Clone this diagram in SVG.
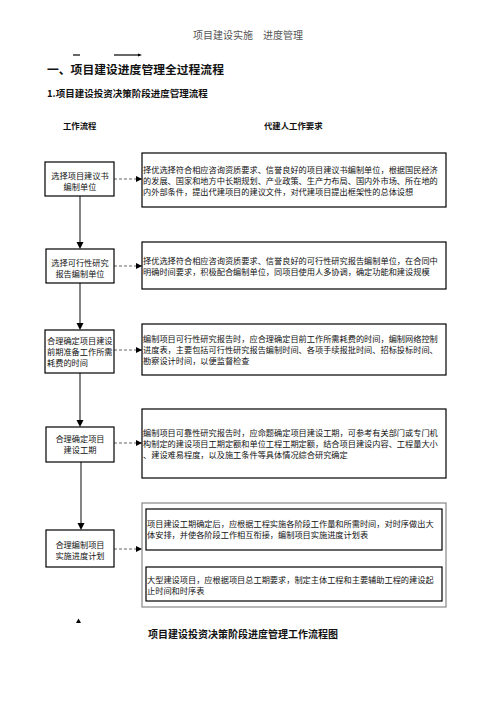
<svg xmlns="http://www.w3.org/2000/svg" width="496" height="702" viewBox="0 0 496 702">
<defs>
<style>
text{font-family:"Noto Sans CJK SC","Noto Sans",sans-serif;fill:#111}
.hd{font-size:10px;fill:#555;text-anchor:middle}
.t1{font-size:11.8px;font-weight:bold}
.t2{font-size:9.5px;font-weight:bold}
.t3{font-size:8.4px;font-weight:bold}
.cap{font-size:10px;font-weight:bold}
.bx{fill:#fff;stroke:#000;stroke-width:1.2}
.gb{fill:#fff;stroke:#888;stroke-width:1.2}
.lt{font-size:8.2px;text-anchor:middle}
.ll{font-size:8.2px}
.rt{font-size:8.2px}
.dash{stroke:#666;stroke-width:1;stroke-dasharray:3,2;fill:none}
.vl{stroke:#666;stroke-width:1.6;fill:none}
</style>
<marker id="ah" viewBox="0 0 10 10" refX="10" refY="5" markerWidth="6" markerHeight="6" orient="auto" markerUnits="userSpaceOnUse">
<path d="M0,0L10,5L0,10z" fill="#000"/>
</marker>
</defs>
<text class="hd" x="248" y="39">项目建设实施　进度管理</text>
<g id="top-marks">
<line x1="73" y1="55" x2="80" y2="55" stroke="#000" stroke-width="1.2"/>
<line x1="114" y1="55" x2="140" y2="55" stroke="#000" stroke-width="1.2"/>
<path d="M138,53.5L142,55L138,56.5z" fill="#000"/>
</g>
<text class="t1" x="47" y="74">一、项目建设进度管理全过程流程</text>
<text class="t2" x="47" y="97">1.项目建设投资决策阶段进度管理流程</text>
<text class="t3" x="63" y="129">工作流程</text>
<text class="t3" x="264" y="129">代建人工作要求</text>

<g id="connectors">
<line class="vl" x1="80" y1="196" x2="80" y2="243"/>
<path d="M76.5,242L80,249L83.5,242z" fill="#000"/>
<line class="vl" x1="80" y1="283" x2="80" y2="324"/>
<path d="M76.5,323L80,330L83.5,323z" fill="#000"/>
<line class="vl" x1="80" y1="373" x2="80" y2="421"/>
<path d="M76.5,420L80,427L83.5,420z" fill="#000"/>
<line class="vl" x1="81" y1="462" x2="81" y2="524"/>
<path d="M77.5,523L81,530L84.5,523z" fill="#000"/>
<line class="dash" x1="114" y1="179" x2="142" y2="179" marker-end="url(#ah)"/>
<line class="dash" x1="114" y1="266" x2="142" y2="266" marker-end="url(#ah)"/>
<line class="dash" x1="114" y1="350" x2="142" y2="350" marker-end="url(#ah)"/>
<line class="dash" x1="114" y1="443" x2="142" y2="443" marker-end="url(#ah)"/>
<line class="dash" x1="114" y1="549" x2="142" y2="549" marker-end="url(#ah)"/>
</g>

<g id="n1">
<rect class="bx" x="45" y="162" width="69" height="34"/>
<text class="lt" x="80" y="179">选择项目建议书</text>
<text class="lt" x="80" y="190">编制单位</text>
</g>
<g id="r1">
<rect class="bx" x="142" y="153" width="304" height="54"/>
<text class="rt" x="143" y="173">择优选择符合相应咨询资质要求、信誉良好的项目建议书编制单位，根据国民经济</text>
<text class="rt" x="143" y="184">的发展、国家和地方中长期规划、产业政策、生产力布局、国内外市场、所在地的</text>
<text class="rt" x="143" y="195">内外部条件，提出代建项目的建议文件，对代建项目提出框架性的总体设想</text>
</g>

<g id="n2">
<rect class="bx" x="46" y="249" width="68" height="34"/>
<text class="lt" x="80" y="266">选择可行性研究</text>
<text class="lt" x="80" y="277">报告编制单位</text>
</g>
<g id="r2">
<rect class="bx" x="142" y="242" width="304" height="47"/>
<text class="rt" x="143" y="264">择优选择符合相应咨询资质要求、信誉良好的可行性研究报告编制单位，在合同中</text>
<text class="rt" x="143" y="275">明确时间要求，积极配合编制单位，同项目使用人多协调，确定功能和建设规模</text>
</g>

<g id="n3">
<rect class="bx" x="45" y="330" width="69" height="43"/>
<text class="ll" x="47" y="344">合理确定项目建设</text>
<text class="ll" x="47" y="355">前期准备工作所需</text>
<text class="ll" x="47" y="366">耗费的时间</text>
</g>
<g id="r3">
<rect class="bx" x="142" y="324" width="304" height="51"/>
<text class="rt" x="143" y="342">编制项目可行性研究报告时，应合理确定目前工作所需耗费的时间，编制网络控制</text>
<text class="rt" x="143" y="353">进度表，主要包括可行性研究报告编制时间、各项手续报批时间、招标投标时间、</text>
<text class="rt" x="143" y="364">勘察设计时间，以便监督检查</text>
</g>

<g id="n4">
<rect class="bx" x="46" y="427" width="68" height="35"/>
<text class="lt" x="80" y="442">合理确定项目</text>
<text class="lt" x="80" y="453">建设工期</text>
</g>
<g id="r4">
<rect class="bx" x="142" y="409" width="304" height="69"/>
<text class="rt" x="143" y="436">编制项目可靠性研究报告时，应命题确定项目建设工期，可参考有关部门或专门机</text>
<text class="rt" x="143" y="447">构制定的建设项目工期定额和单位工程工期定额，结合项目建设内容、工程量大小</text>
<text class="rt" x="143" y="458">、建设难易程度，以及施工条件等具体情况综合研究确定</text>
</g>

<g id="n5">
<rect class="bx" x="46" y="530" width="68" height="37"/>
<text class="lt" x="80" y="548">合理编制项目</text>
<text class="lt" x="80" y="559">实施进度计划</text>
</g>
<g id="r5">
<rect class="gb" x="142" y="503" width="304" height="104"/>
<rect class="bx" x="146" y="509" width="296" height="41"/>
<text class="rt" x="147" y="527">项目建设工期确定后，应根据工程实施各阶段工作量和所需时间，对时序做出大</text>
<text class="rt" x="147" y="538">体安排，并使各阶段工作相互衔接，编制项目实施进度计划表</text>
<rect class="bx" x="146" y="567" width="296" height="34"/>
<text class="rt" x="147" y="583">大型建设项目，应根据项目总工期要求，制定主体工程和主要辅助工程的建设起</text>
<text class="rt" x="147" y="594">止时间和时序表</text>
</g>

<path d="M76,623L78.5,618.5L81,623z" fill="#000"/>
<text class="cap" x="148" y="638">项目建设投资决策阶段进度管理工作流程图</text>
</svg>
